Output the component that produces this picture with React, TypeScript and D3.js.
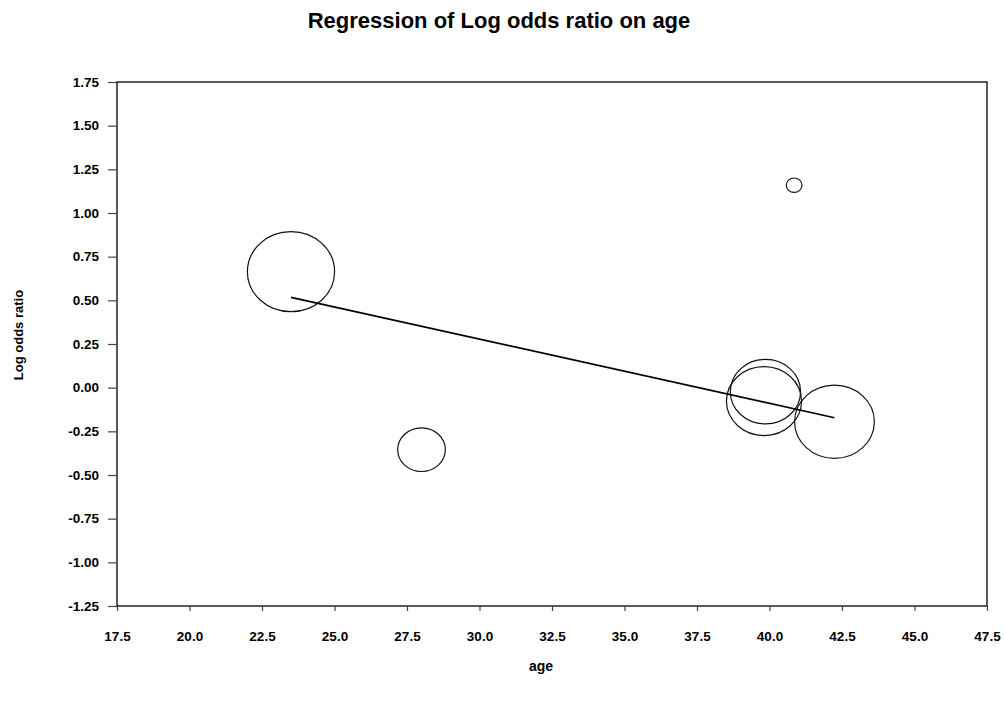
import React, { useEffect, useRef } from "react";
import * as d3 from "d3";

// study level data
const ages = [23.5, 28.0, 39.86, 39.81, 42.24, 40.85];
const logOdds = [0.664, -0.355, -0.023, -0.077, -0.195, 1.159];
const weights = [98.5, 29.4, 64, 73.1, 82.4, 3.2];

// fitted regression line end points
const fitAges = [23.5, 42.24];
const fitLogOdds = [0.517, -0.172];

const xTicks = [17.5, 20, 22.5, 25, 27.5, 30, 32.5, 35, 37.5, 40, 42.5, 45, 47.5];
const yTicks = [-1.25, -1, -0.75, -0.5, -0.25, 0, 0.25, 0.5, 0.75, 1, 1.25, 1.5, 1.75];

const title = "Regression of Log odds ratio on age";
const xLabel = "age";
const yLabel = "Log odds ratio";

export default function App() {
  const svgRef = useRef<SVGSVGElement | null>(null);

  const width = 1006;
  const height = 704;
  const margin = { top: 82, right: 19, bottom: 98, left: 117 };

  useEffect(() => {
    const svgEl = d3.select(svgRef.current);
    svgEl.selectAll("*").remove();

    const font = "'Liberation Sans', Arial, sans-serif";
    const x0 = margin.left;
    const x1 = width - margin.right;
    const y0 = height - margin.bottom;
    const y1 = margin.top;

    const x_scale = d3.scaleLinear().domain([17.5, 47.5]).range([x0, x1]);
    const y_scale = d3.scaleLinear().domain([-1.25, 1.75]).range([y0, y1]);
    const r_scale = d3.scaleSqrt().domain([0, 100]).range([0, 40.3]);

    // plain hyphen instead of d3's unicode minus
    const fmt2 = (d: number) => d.toFixed(2);
    const fmt1 = (d: number) => d.toFixed(1);

    // frame
    svgEl
      .append("rect")
      .attr("x", x0)
      .attr("y", y1)
      .attr("width", x1 - x0)
      .attr("height", y0 - y1)
      .attr("fill", "none")
      .attr("stroke", "#000")
      .attr("stroke-width", 1.3);

    // y axis
    const yAxis = svgEl
      .append("g")
      .attr("transform", "translate(" + x0 + ",0)")
      .call(
        d3
          .axisLeft(y_scale)
          .tickValues(yTicks)
          .tickSize(9)
          .tickPadding(9)
          .tickFormat((d) => fmt2(+d))
      );
    yAxis.select(".domain").remove();
    yAxis.selectAll("line").attr("stroke", "#444").attr("stroke-width", 1.2);
    yAxis
      .selectAll("text")
      .attr("font-family", font)
      .attr("font-size", 13.5)
      .attr("font-weight", "bold")
      .attr("fill", "#000");

    // x axis
    const xAxis = svgEl
      .append("g")
      .attr("transform", "translate(0," + y0 + ")")
      .call(
        d3
          .axisBottom(x_scale)
          .tickValues(xTicks)
          .tickSize(5)
          .tickPadding(20)
          .tickFormat((d) => fmt1(+d))
      );
    xAxis.select(".domain").remove();
    xAxis.selectAll("line").attr("stroke", "#444").attr("stroke-width", 1.2);
    xAxis
      .selectAll("text")
      .attr("font-family", font)
      .attr("font-size", 13.5)
      .attr("font-weight", "bold")
      .attr("fill", "#000");

    // bubbles
    const pts = ages.map((a, i) => ({ age: a, lo: logOdds[i], w: weights[i] }));
    svgEl
      .append("g")
      .selectAll("ellipse")
      .data(pts)
      .enter()
      .append("ellipse")
      .attr("cx", (d) => x_scale(d.age))
      .attr("cy", (d) => y_scale(d.lo))
      .attr("rx", (d) => r_scale(d.w) * 1.09)
      .attr("ry", (d) => r_scale(d.w))
      .attr("fill", "none")
      .attr("stroke", "#111")
      .attr("stroke-width", 1.2);

    // regression line
    const line = d3
      .line<number>()
      .x((d) => x_scale(d))
      .y((d, i) => y_scale(fitLogOdds[i]));
    svgEl
      .append("path")
      .attr("d", line(fitAges))
      .attr("fill", "none")
      .attr("stroke", "#000")
      .attr("stroke-width", 1.6);

    // titles
    svgEl
      .append("text")
      .attr("x", 499)
      .attr("y", 28)
      .attr("text-anchor", "middle")
      .attr("font-family", font)
      .attr("font-size", 22)
      .attr("font-weight", "bold")
      .text(title);

    svgEl
      .append("text")
      .attr("x", 541)
      .attr("y", 671)
      .attr("text-anchor", "middle")
      .attr("font-family", font)
      .attr("font-size", 14)
      .attr("font-weight", "bold")
      .text(xLabel);

    svgEl
      .append("text")
      .attr("transform", "translate(23,335) rotate(-90)")
      .attr("text-anchor", "middle")
      .attr("font-family", font)
      .attr("font-size", 13)
      .attr("font-weight", "bold")
      .text(yLabel);
  });

  return (
    <svg
      width={width}
      height={height}
      ref={svgRef}
      style={{ position: "absolute", left: 0, top: 0, background: "#fff" }}
    ></svg>
  );
}
